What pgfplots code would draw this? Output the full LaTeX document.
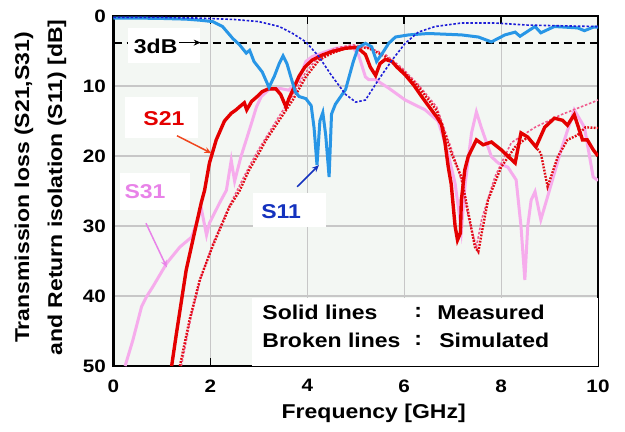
\documentclass[border=0pt]{standalone}
\usepackage{fontspec}
\setmainfont{Liberation Sans}[FakeStretch=1.15]
\usepackage{pgfplots}
\pgfplotsset{compat=1.18}
\usetikzlibrary{arrows.meta,calc}
\definecolor{bgc}{RGB}{243,247,243}
\definecolor{s11m}{RGB}{40,150,230}
\definecolor{s11s}{RGB}{30,30,215}
\definecolor{s21m}{RGB}{228,0,0}
\definecolor{s21s}{RGB}{225,10,20}
\definecolor{s31m}{RGB}{246,172,236}
\definecolor{s31s}{RGB}{240,90,140}
\definecolor{s31lab}{RGB}{232,130,232}
\definecolor{s11lab}{RGB}{20,50,190}
\definecolor{s21arr}{RGB}{240,70,30}
\begin{document}
\begin{tikzpicture}
\begin{axis}[
  scale only axis, width=484.5pt, height=350pt,
  xmin=0, xmax=10, ymin=0, ymax=50, y dir=reverse,
  xtick={0,2,...,10}, ytick={0,10,...,50},
  grid=major, major grid style={draw=black!22, line width=1.2pt},
  axis line style={line width=2.5pt},
  axis background/.style={fill=bgc},
  tick align=inside, major tick length=8pt,
  xtick style={black, line width=1.5pt},
  ytick style={draw=none},
  /pgf/number format/assume math mode=true,
  tick label style={font=\fontsize{18}{18}\selectfont\bfseries},
  xticklabel style={yshift=-10pt},
  yticklabel style={xshift=-4pt},
  xlabel={Frequency [GHz]},
  xlabel style={font=\fontsize{20}{20}\selectfont\bfseries, at={(axis description cs:0.537,0)}, anchor=center, yshift=-47pt},
  ylabel={Transmission loss (S21,S31)\\and Return isolation (S11) [dB]},
  ylabel style={font=\fontsize{20}{33}\selectfont\bfseries, align=center, at={(axis description cs:0,0.51)}, anchor=center, rotate=0, yshift=73pt},
]
% white boxes behind labels
\fill[white] (axis cs:0.3,1.7) rectangle (axis cs:1.78,6.7);
\fill[white] (axis cs:0.24,11.6) rectangle (axis cs:1.75,17.4);
\fill[white] (axis cs:0.13,22.4) rectangle (axis cs:1.57,27.7);
\fill[white] (axis cs:2.87,25.3) rectangle (axis cs:4.39,30.1);
\fill[white] (axis cs:2.85,40.3) rectangle (axis cs:10,50);
% 3 dB line
\addplot[black, line width=1.8pt, dash pattern=on 8pt off 5pt] coordinates {(0,3.8) (0.3,3.8)};
\addplot[black, line width=1.8pt, dash pattern=on 8pt off 5pt] coordinates {(1.78,3.8) (10,3.8)};
% S31 measured
\addplot[s31m, line width=3pt] coordinates {
(0.24,50) (0.4,46.3) (0.58,41.5) (0.69,40) (0.81,38.7) (1.1,35.3) (1.37,33) (1.61,31.6)
(1.74,29.1) (1.81,27.4) (1.92,31.3) (1.98,29.6) (2.19,26.7) (2.33,24.9) (2.43,20.6)
(2.5,23.6) (2.63,20.1) (2.74,17.7) (2.84,15.5) (2.95,13) (3.05,11.5) (3.21,10.5) (3.4,10.3)
(3.62,10.6) (3.83,9.1) (3.97,6.5) (4.1,5.8) (4.38,5.1) (4.6,4.6) (4.93,4.4) (5.06,5.6)
(5.2,8.7) (5.27,9.1) (5.41,9.1) (5.68,10.3) (6.02,12) (6.43,13.4) (6.7,15) (6.84,18.1)
(6.95,21) (7.05,23.9) (7.18,30.6) (7.26,23.9) (7.39,16.7) (7.49,13.7) (7.59,15.9) (7.8,20.1)
(7.94,21) (8.14,21.6) (8.31,23.4) (8.41,30) (8.49,37.7) (8.55,30) (8.62,26.3) (8.7,25.1)
(8.82,29.1) (8.96,25.8) (9.24,19.1) (9.51,13.4) (9.72,15.9) (9.9,23) (10,23.5)};
% S31 simulated
\addplot[s31s, line width=1.6pt, dash pattern=on 2.5pt off 1.8pt] coordinates {
(1.4,50) (1.6,43) (1.8,37.5) (2.05,32.5) (2.4,27) (2.8,21.5) (3.0,19) (3.42,14.3) (3.7,11.3)
(3.97,8) (4.24,5.8) (4.59,4.6) (4.93,4.1) (5.27,4.5) (5.61,5.5) (5.95,7.4) (6.29,9.8)
(6.67,13) (7.0,19.5) (7.18,23.5) (7.32,28.7) (7.49,33) (7.6,29) (7.87,23) (8.21,18.1)
(8.7,15.9) (9.24,14.1) (9.9,12.3) (10,12)};
% S21 simulated
\addplot[s21s, line width=2.4pt, dash pattern=on 1.8pt off 1.4pt] coordinates {
(1.37,50) (1.57,43.4) (1.78,37.7) (2.04,33) (2.39,27.3) (2.6,25) (2.8,22) (3.0,19.6)
(3.15,17.7) (3.42,14.9) (3.7,12) (3.97,8.7) (4.24,6.3) (4.51,5.3) (4.79,4.6) (5.0,4.4)
(5.27,4.6) (5.61,5.8) (5.95,7.7) (6.29,10.1) (6.67,13.5) (6.98,19.7) (7.18,23) (7.32,28)
(7.46,33) (7.53,33.7) (7.6,31) (7.73,26.3) (8.0,21.6) (8.29,18.7) (8.55,17.3) (8.82,19.6)
(8.96,24.4) (9.17,20.1) (9.37,17.7) (9.58,17) (9.74,15.9) (10,16)};
% S21 measured
\addplot[s21m, line width=3.4pt] coordinates {
(1.2,50) (1.3,45.3) (1.5,36.3) (1.67,31) (1.81,26.7) (1.88,24.9) (1.98,21) (2.12,17.7)
(2.29,15) (2.43,13.9) (2.53,13.4) (2.63,12.8) (2.7,12.4) (2.75,13.4) (2.85,12.2) (2.95,11.6)
(3.07,10.8) (3.2,10.4) (3.35,10.4) (3.45,11.2) (3.56,13) (3.62,11.8) (3.7,10.6) (3.83,8.6)
(3.95,7.3) (4.1,6.3) (4.3,5.6) (4.5,5.1) (4.79,4.6) (5.0,4.5) (5.1,4.9) (5.2,5.5) (5.3,7.3)
(5.41,8.5) (5.5,6.8) (5.61,6.2) (5.75,6.5) (5.85,7.3) (6.02,8.4) (6.2,9.9) (6.36,11.5)
(6.55,13.3) (6.67,14.4) (6.77,15.5) (6.84,18) (6.91,21.6) (6.97,24) (7.05,30) (7.1,32)
(7.16,31) (7.18,26.3) (7.25,22) (7.32,20.1) (7.49,17.7) (7.63,18.4) (7.8,18) (8.0,19.1)
(8.29,21) (8.41,16.7) (8.55,17.3) (8.72,18.7) (8.9,15.9) (9.1,14.6) (9.27,14.9) (9.37,15.6)
(9.51,14.1) (9.6,16) (9.68,17.7) (9.78,17.7) (9.9,19.1) (10,20)};
% S11 measured
\addplot[s11m, line width=3pt] coordinates {
(0,0.3) (0.5,0.3) (1.0,0.35) (1.5,0.45) (1.78,0.6) (2.05,0.8) (2.25,1.5) (2.46,3.2)
(2.6,4.1) (2.74,5.3) (2.81,4.9) (2.9,6.5) (3.07,8) (3.21,10.2) (3.32,8.6) (3.42,6.8)
(3.5,5.7) (3.58,6.8) (3.66,8.7) (3.75,10.8) (3.83,11.5) (3.97,11.8) (4.08,12.8) (4.14,16)
(4.2,21.3) (4.26,15) (4.32,13.8) (4.38,17) (4.45,23) (4.5,14) (4.58,12.6) (4.68,11.6)
(4.79,10.5) (4.87,8.5) (4.95,6.5) (5.05,4.5) (5.2,3.9) (5.33,4.4) (5.43,6.5) (5.57,5.1)
(5.68,3.9) (5.82,3.0) (6.09,2.7) (6.5,2.5) (7.18,2.7) (7.53,3.0) (7.8,3.7) (8.08,2.7)
(8.29,2.3) (8.39,2.9) (8.7,1.5) (8.82,2.4) (9.1,1.5) (9.58,1.7) (9.72,2.1) (9.9,1.6) (10,1.6)};
% S11 simulated
\addplot[s11s, line width=1.6pt, dash pattern=on 2.5pt off 1.8pt] coordinates {
(0,0.2) (1.0,0.2) (1.78,0.3) (2.5,0.5) (3.0,0.8) (3.42,1.5) (3.7,2.5) (3.97,3.7) (4.24,5.8)
(4.5,8.5) (4.79,11.2) (5.0,12.3) (5.2,12.0) (5.47,9.1) (5.75,6.3) (6.02,3.9) (6.29,2.3)
(6.64,1.5) (7.18,1.0) (7.87,1.0) (8.55,1.3) (9.24,1.4) (10,1.5)};
% labels
\node[font=\fontsize{20}{20}\selectfont\bfseries] at (axis cs:0.87,4.3) {3dB};
\draw[black, line width=1.5pt, -{Stealth[length=7pt,width=6pt]}] (axis cs:1.35,3.8) -- (axis cs:1.8,3.8);
\node[font=\fontsize{20}{20}\selectfont\bfseries, text=s21m] at (axis cs:1.04,14.6) {S21};
\draw[s21arr, line width=1.5pt, -{Stealth[length=7pt,width=6pt]}] (axis cs:1.31,17.1) -- (axis cs:2.02,19.6);
\node[font=\fontsize{20}{20}\selectfont\bfseries, text=s31lab] at (axis cs:0.65,25.1) {S31};
\draw[s31lab, line width=1.5pt, -{Stealth[length=7pt,width=6pt]}] (axis cs:0.67,29.6) -- (axis cs:1.1,35.9);
\node[font=\fontsize{20}{20}\selectfont\bfseries, text=s11lab] at (axis cs:3.46,27.9) {S11};
\draw[s11lab, line width=1.5pt, -{Stealth[length=7pt,width=6pt]}] (axis cs:3.79,24.4) -- (axis cs:4.24,21.3);
\node[font=\fontsize{20}{20}\selectfont\bfseries, anchor=west, inner sep=0pt] at (axis cs:3.07,42.4) {Solid lines};
\node[font=\fontsize{20}{20}\selectfont\bfseries, anchor=west, inner sep=0pt] at (axis cs:3.07,46.4) {Broken lines};
\node[font=\fontsize{20}{20}\selectfont\bfseries] at (axis cs:6.29,42.4) {:};
\node[font=\fontsize{20}{20}\selectfont\bfseries] at (axis cs:6.29,46.4) {:};
\node[font=\fontsize{20}{20}\selectfont\bfseries, anchor=west, inner sep=0pt] at (axis cs:6.68,42.4) {Measured};
\node[font=\fontsize{20}{20}\selectfont\bfseries, anchor=west, inner sep=0pt] at (axis cs:6.72,46.4) {Simulated};
\end{axis}
\pgfresetboundingbox
\path ($(current axis.south west)+(-113.5pt,-65pt)$) rectangle ($(current axis.north east)+(27pt,16pt)$);
\end{tikzpicture}
\end{document}
